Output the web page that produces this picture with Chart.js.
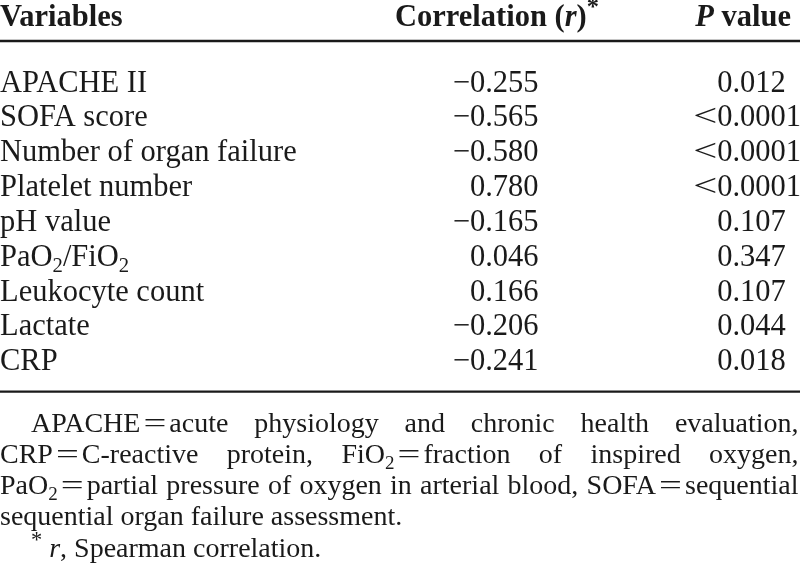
<!DOCTYPE html>
<html>
<head>
<meta charset="utf-8">
<script src="https://cdn.jsdelivr.net/npm/chart.js@4.4.1/dist/chart.umd.min.js"></script>
<style>
  html, body { margin: 0; padding: 0; background: #ffffff; }
  canvas { display: block; }
</style>
</head>
<body>
<canvas id="c" width="800" height="564"></canvas>
<script>
// ---------- data (markup: ~italic~, _x subscript, ^x superscript) ----------
const headers = ["Variables", "Correlation (~r~)^*", "~P~ value"];
const variables = [
  "APACHE II",
  "SOFA score",
  "Number of organ failure",
  "Platelet number",
  "pH value",
  "PaO_2/FiO_2",
  "Leukocyte count",
  "Lactate",
  "CRP"
];
const correlations = [-0.255, -0.565, -0.580, 0.780, -0.165, 0.046, 0.166, -0.206, -0.241];
const pValues = ["0.012", "<0.0001", "<0.0001", "<0.0001", "0.107", "0.347", "0.107", "0.044", "0.018"];
const footnotes = [
  "APACHE=acute physiology and chronic health evaluation,",
  "CRP=C-reactive protein, FiO_2=fraction of inspired oxygen,",
  "PaO_2=partial pressure of oxygen in arterial blood, SOFA=sequential",
  "sequential organ failure assessment.",
  "^* ~r~, Spearman correlation."
];

// ---------- layout (scale units = pixels of the 800x564 frame) ----------
const FONT = "'Liberation Serif','Times New Roman',Times,serif";
const TEXT_COLOR = "#1a1a1a";
const BODY_SIZE = 30.5;
const FOOT_SIZE = 28;
const HEADER_Y = 26;
const ROW0 = 91.5, ROW_STEP = 34.85;
const FOOT0 = 431.7, FOOT_STEP = 31.25;
const RULES_Y = [41, 391.6];
const VAR_X = 0, R_RIGHT = 538.5, P_DOT = 736.3;
const HEADER_X = [0, 395, 791];
const HEADER_ALIGN = ["left", "left", "right"];
const FOOT_LEFT = 0, FOOT_RIGHT = 798.5;
const FOOT_MODE = ["justify", "justify", "justify", "left", "left"];
const FOOT_INDENT = [31, 0, 0, 0, 31];
const EQ_STRETCH = 1.45, EQ_PAD = 3, LT_STRETCH = 1.4;

const fmtR = v => (v < 0 ? "\u2212" : "") + Math.abs(v).toFixed(3);

// ---------- rich-text helpers ----------
function parseRich(str) {
  const toks = [];
  let it = false;
  for (let i = 0; i < str.length; i++) {
    const c = str[i];
    if (c === "~") { it = !it; continue; }
    if (c === " ") { toks.push({ space: true }); continue; }
    if (c === "_" || c === "^") {
      const n = str[++i];
      toks.push({ text: n, it, sub: c === "_", sup: c === "^", sx: 1, pad: 0 });
      continue;
    }
    let sx = 1, pad = 0;
    if (c === "=") { sx = EQ_STRETCH; pad = EQ_PAD; }
    else if (c === "<") sx = LT_STRETCH;
    toks.push({ text: c, it, sub: false, sup: false, sx, pad });
  }
  const words = [];
  let cur = [];
  for (const t of toks) {
    if (t.space) { if (cur.length) words.push(cur); cur = []; continue; }
    const last = cur[cur.length - 1];
    if (last && last.it === t.it && last.sub === t.sub && last.sup === t.sup &&
        last.sx === 1 && t.sx === 1 && !last.pad && !t.pad) {
      last.text += t.text;
    } else {
      cur.push({ ...t });
    }
  }
  if (cur.length) words.push(cur);
  return words;
}
function runFont(run, size, bold) {
  let s = size;
  if (run.sup) s = size * (run.text === "*" ? 0.8 : 0.68);
  else if (run.sub) s = size * 0.68;
  return (run.it ? "italic " : "") + (bold ? "bold " : "") + s + "px " + FONT;
}
function runWidth(ctx, r, size, bold) {
  ctx.font = runFont(r, size, bold);
  return ctx.measureText(r.text).width * r.sx + 2 * (r.pad || 0);
}
function wordWidth(ctx, word, size, bold) {
  let w = 0;
  for (const r of word) w += runWidth(ctx, r, size, bold);
  return w;
}
function drawWord(ctx, word, x, y, size, bold) {
  for (const r of word) {
    const w = runWidth(ctx, r, size, bold);
    ctx.font = runFont(r, size, bold);
    const yy = y + (r.sub ? 0.2 * size : r.sup ? -0.36 * size : 0);
    const gx = x + (r.pad || 0);
    if (r.sx !== 1) {
      ctx.save(); ctx.translate(gx, yy); ctx.scale(r.sx, 1); ctx.fillText(r.text, 0, 0); ctx.restore();
    } else {
      ctx.fillText(r.text, gx, yy);
    }
    x += w;
  }
  return x;
}
function drawCell(ctx, text, x, y, o) {
  const words = parseRich(text);
  ctx.font = (o.bold ? "bold " : "") + o.size + "px " + FONT;
  const space = ctx.measureText(" ").width;
  const widths = words.map(w => wordWidth(ctx, w, o.size, o.bold));
  const total = widths.reduce((a, b) => a + b, 0);
  let x0, gap = space;
  if (o.align === "right") {
    x0 = x - total - space * (words.length - 1);
  } else if (o.align === "decimal") {
    const k = text.indexOf(".");
    const pre = k >= 0 ? text.slice(0, k) : text;
    const preW = pre.length ? wordWidth(ctx, parseRich(pre)[0], o.size, o.bold) : 0;
    ctx.font = o.size + "px " + FONT;
    const dotW = ctx.measureText(".").width;
    x0 = x - preW - dotW / 2;
  } else if (o.align === "justify") {
    x0 = x + (o.indent || 0);
    gap = words.length > 1 ? (o.right - x0 - total) / (words.length - 1) : space;
  } else {
    x0 = x + (o.indent || 0);
  }
  let cx = x0;
  words.forEach((w, i) => { drawWord(ctx, w, cx, y, o.size, o.bold); cx += widths[i] + gap; });
}

const tablePlugin = {
  id: "tableText",
  afterDatasetsDraw(chart) {
    const ctx = chart.ctx;
    ctx.save();
    ctx.fillStyle = TEXT_COLOR;
    ctx.textBaseline = "alphabetic";
    ctx.textAlign = "left";
    chart.data.datasets.forEach((ds, di) => {
      if (!ds.cellTexts) return;
      const meta = chart.getDatasetMeta(di);
      meta.data.forEach((pt, i) => {
        const align = Array.isArray(ds.cellAlign) ? ds.cellAlign[i] : ds.cellAlign;
        const indent = ds.cellIndent ? ds.cellIndent[i] : 0;
        const right = ds.cellRight !== undefined ? chart.scales.x.getPixelForValue(ds.cellRight) : 0;
        drawCell(ctx, ds.cellTexts[i], pt.x, pt.y, { size: ds.cellSize, bold: ds.cellBold, align, indent, right });
      });
    });
    ctx.restore();
  }
};

const ruleDatasets = RULES_Y.map(ry => ({
  type: "line",
  data: [{ x: 0, y: ry }, { x: 800, y: ry }],
  borderColor: TEXT_COLOR,
  borderWidth: 2.4,
  pointRadius: 0,
  showLine: true,
  clip: false
}));

function textDataset(texts, xs, ys, extra) {
  return Object.assign({
    type: "scatter",
    data: texts.map((t, i) => ({ x: Array.isArray(xs) ? xs[i] : xs, y: ys(i) })),
    pointRadius: 0,
    pointHoverRadius: 0,
    cellTexts: texts,
    clip: false
  }, extra);
}

new Chart(document.getElementById("c"), {
  type: "scatter",
  data: {
    datasets: [
      ...ruleDatasets,
      textDataset(headers, HEADER_X, () => HEADER_Y, { cellSize: BODY_SIZE, cellBold: true, cellAlign: HEADER_ALIGN }),
      textDataset(variables, VAR_X, i => ROW0 + i * ROW_STEP, { cellSize: BODY_SIZE, cellBold: false, cellAlign: "left" }),
      textDataset(correlations.map(fmtR), R_RIGHT, i => ROW0 + i * ROW_STEP, { cellSize: BODY_SIZE, cellBold: false, cellAlign: "right" }),
      textDataset(pValues, P_DOT, i => ROW0 + i * ROW_STEP, { cellSize: BODY_SIZE, cellBold: false, cellAlign: "decimal" }),
      textDataset(footnotes, FOOT_LEFT, i => FOOT0 + i * FOOT_STEP, {
        cellSize: FOOT_SIZE, cellBold: false, cellAlign: FOOT_MODE, cellIndent: FOOT_INDENT, cellRight: FOOT_RIGHT
      })
    ]
  },
  options: {
    responsive: false,
    animation: false,
    events: [],
    layout: { padding: 0 },
    plugins: { legend: { display: false }, tooltip: { enabled: false } },
    scales: {
      x: { type: "linear", min: 0, max: 800, display: false },
      y: { type: "linear", min: 0, max: 564, reverse: true, display: false }
    }
  },
  plugins: [tablePlugin]
});
</script>
</body>
</html>
